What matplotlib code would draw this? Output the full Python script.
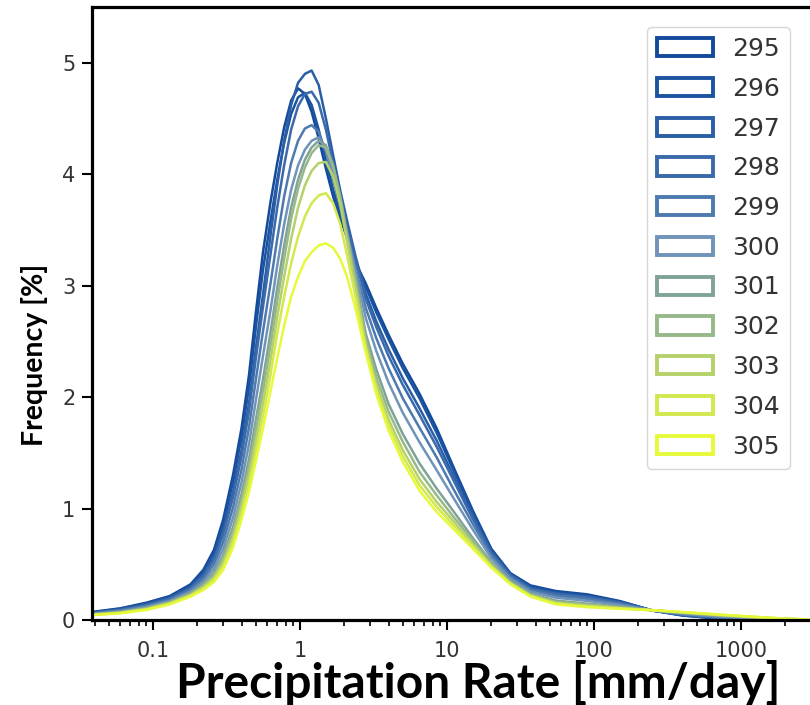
import matplotlib.pyplot as plt
from matplotlib.patches import Patch
from matplotlib.ticker import NullFormatter

# precipitation rate grid [mm/day]
rate = [0.04, 0.06, 0.09, 0.13, 0.18, 0.22, 0.26, 0.3, 0.35, 0.4, 0.45, 0.5,
        0.56, 0.63, 0.7, 0.78, 0.87, 0.97, 1.08, 1.2, 1.34, 1.5, 1.68, 1.88,
        2.1, 2.4, 2.8, 3.3, 4, 5, 6.5, 8.5, 11, 15, 20, 27, 37, 55, 90, 150,
        250, 400, 700, 1200, 2000, 3000]

# frequency [%] per SST
f295 = [0.075, 0.105, 0.155, 0.215, 0.32, 0.45, 0.63, 0.9, 1.3, 1.72, 2.2, 2.75,
        3.3, 3.75, 4.1, 4.42, 4.66, 4.77, 4.72, 4.56, 4.32, 4.05, 3.8, 3.6,
        3.42, 3.2, 3.02, 2.8, 2.56, 2.3, 2.03, 1.72, 1.38, 0.98, 0.64, 0.42,
        0.31, 0.26, 0.23, 0.17, 0.085, 0.04, 0.012, 0.003, 0.001, 0.0]
f296 = [0.072, 0.1, 0.149, 0.207, 0.309, 0.432, 0.601, 0.855, 1.235, 1.638,
        2.095, 2.617, 3.142, 3.58, 3.95, 4.28, 4.54, 4.69, 4.73, 4.62, 4.4,
        4.12, 3.86, 3.64, 3.44, 3.2, 2.99, 2.76, 2.52, 2.26, 1.99, 1.68, 1.35,
        0.96, 0.63, 0.415, 0.3, 0.25, 0.22, 0.165, 0.085, 0.042, 0.014, 0.004,
        0.002, 0.0]
f297 = [0.068, 0.094, 0.139, 0.196, 0.294, 0.407, 0.56, 0.792, 1.144, 1.523,
        1.948, 2.43, 2.92, 3.45, 3.9, 4.3, 4.62, 4.82, 4.9, 4.93, 4.8, 4.5,
        4.17, 3.85, 3.57, 3.25, 2.93, 2.68, 2.43, 2.17, 1.9, 1.61, 1.3, 0.93,
        0.615, 0.405, 0.29, 0.24, 0.21, 0.16, 0.085, 0.045, 0.017, 0.006, 0.002,
        0.0]
f298 = [0.066, 0.091, 0.135, 0.191, 0.286, 0.394, 0.54, 0.76, 1.1, 1.466, 1.875,
        2.34, 2.81, 3.28, 3.7, 4.08, 4.4, 4.61, 4.72, 4.74, 4.64, 4.4, 4.1, 3.8,
        3.53, 3.23, 2.88, 2.63, 2.37, 2.11, 1.84, 1.555, 1.26, 0.905, 0.6, 0.4,
        0.28, 0.234, 0.205, 0.155, 0.085, 0.047, 0.02, 0.008, 0.003, 0.001]
f299 = [0.062, 0.085, 0.126, 0.181, 0.27, 0.369, 0.5, 0.698, 1.008, 1.35, 1.73,
        2.15, 2.59, 3.02, 3.42, 3.8, 4.1, 4.3, 4.41, 4.44, 4.38, 4.2, 3.95, 3.7,
        3.45, 3.15, 2.8, 2.53, 2.26, 1.99, 1.725, 1.46, 1.18, 0.86, 0.58, 0.385,
        0.27, 0.218, 0.19, 0.146, 0.086, 0.051, 0.025, 0.012, 0.004, 0.001]
f300 = [0.057, 0.078, 0.117, 0.171, 0.255, 0.344, 0.459, 0.635, 0.917, 1.236,
        1.58, 1.965, 2.37, 2.78, 3.18, 3.55, 3.86, 4.08, 4.22, 4.3, 4.33, 4.22,
        4.0, 3.74, 3.46, 3.12, 2.71, 2.415, 2.13, 1.86, 1.595, 1.345, 1.1, 0.81,
        0.555, 0.37, 0.255, 0.2, 0.172, 0.135, 0.087, 0.056, 0.031, 0.016,
        0.006, 0.002]
f301 = [0.053, 0.073, 0.108, 0.162, 0.241, 0.32, 0.421, 0.576, 0.832, 1.13,
        1.444, 1.79, 2.16, 2.58, 2.98, 3.36, 3.7, 3.95, 4.13, 4.24, 4.3, 4.26,
        4.08, 3.8, 3.45, 3.05, 2.57, 2.25, 1.94, 1.67, 1.405, 1.18, 0.98, 0.735,
        0.52, 0.35, 0.236, 0.174, 0.147, 0.12, 0.087, 0.063, 0.04, 0.022,
        0.009, 0.003]
f302 = [0.051, 0.069, 0.104, 0.156, 0.233, 0.308, 0.4, 0.545, 0.787, 1.072,
        1.37, 1.7, 2.05, 2.46, 2.86, 3.24, 3.6, 3.87, 4.06, 4.19, 4.26, 4.24,
        4.07, 3.79, 3.43, 3.02, 2.52, 2.18, 1.87, 1.6, 1.33, 1.12, 0.93, 0.71,
        0.505, 0.34, 0.228, 0.164, 0.138, 0.114, 0.087, 0.066, 0.042, 0.024,
        0.01, 0.003]
f303 = [0.049, 0.066, 0.099, 0.151, 0.225, 0.295, 0.38, 0.513, 0.741, 1.015,
        1.297, 1.6, 1.94, 2.33, 2.72, 3.08, 3.42, 3.7, 3.9, 4.03, 4.1, 4.11,
        3.98, 3.73, 3.38, 2.96, 2.475, 2.12, 1.8, 1.525, 1.265, 1.06, 0.89,
        0.68, 0.49, 0.33, 0.22, 0.155, 0.129, 0.108, 0.088, 0.068, 0.045,
        0.027, 0.011, 0.004]
f304 = [0.047, 0.063, 0.095, 0.146, 0.218, 0.283, 0.36, 0.482, 0.696, 0.957,
        1.223, 1.51, 1.83, 2.2, 2.57, 2.9, 3.2, 3.44, 3.62, 3.74, 3.81, 3.83,
        3.74, 3.55, 3.26, 2.88, 2.44, 2.076, 1.75, 1.47, 1.21, 1.015, 0.854,
        0.66, 0.48, 0.326, 0.215, 0.147, 0.122, 0.104, 0.088, 0.07, 0.048,
        0.029, 0.012, 0.004]
f305 = [0.045, 0.06, 0.09, 0.14, 0.21, 0.27, 0.34, 0.45, 0.65, 0.9, 1.15, 1.42,
        1.72, 2.05, 2.35, 2.64, 2.9, 3.08, 3.22, 3.3, 3.36, 3.38, 3.34, 3.24,
        3.07, 2.78, 2.4, 2.03, 1.7, 1.42, 1.16, 0.97, 0.82, 0.64, 0.47, 0.32,
        0.21, 0.14, 0.115, 0.1, 0.088, 0.072, 0.05, 0.03, 0.012, 0.004]

labels = ['295', '296', '297', '298', '299', '300', '301', '302', '303', '304', '305']
series = [f295, f296, f297, f298, f299, f300, f301, f302, f303, f304, f305]
colours = ['#144a9c', '#1b53a1', '#2a5ea6', '#3a6aab', '#4d7aaf', '#6f93b9',
           '#80a398', '#97b98a', '#b5d16a', '#d3e84f', '#e6fa3a']

fig = plt.figure(figsize=(8.1, 7.05), dpi=100)
ax = fig.add_axes([92/810, 85/705, 720/810, 613/705])

for lab, f, c in zip(labels, series, colours):
    ax.plot(rate, f, color=c, lw=1.8)

ax.set_xscale('log')
ax.set_xlim(10**-1.415, 10**3.483)
ax.set_ylim(0, 5.5)
ax.set_yticks([0, 1, 2, 3, 4, 5])
ax.set_xticks([0.1, 1, 10, 100, 1000])
ax.set_xticklabels(['0.1', '1', '10', '100', '1000'])
ax.xaxis.set_minor_formatter(NullFormatter())
ax.tick_params(axis='both', which='major', labelsize=15, labelcolor='#333333',
               length=7, width=1.5, pad=5)
ax.tick_params(axis='x', which='major', pad=8)
ax.tick_params(axis='x', which='minor', length=4, width=1.2)
for s in ax.spines.values():
    s.set_linewidth(2.3)

handles = [Patch(facecolor='white', edgecolor=c, linewidth=2.8) for c in colours]
ax.legend(handles, labels, loc='upper left', bbox_to_anchor=(647/810, 1 - 27/705),
          bbox_transform=fig.transFigure, fontsize=18, handlelength=2.25,
          handleheight=0.75, handletextpad=0.75, labelspacing=0.63,
          borderpad=0.4, borderaxespad=0, labelcolor='#333333')

fig.text(478/810, 1 - 683/705, 'Precipitation Rate [mm/day]', family='Lato',
         weight='bold', fontsize=34.5, ha='center', va='center')
fig.text(35/810, 1 - 355/705, 'Frequency [%]', family='Lato', weight='bold',
         fontsize=20.5, rotation=90, ha='center', va='center')

fig.savefig('out.png', dpi=100)
